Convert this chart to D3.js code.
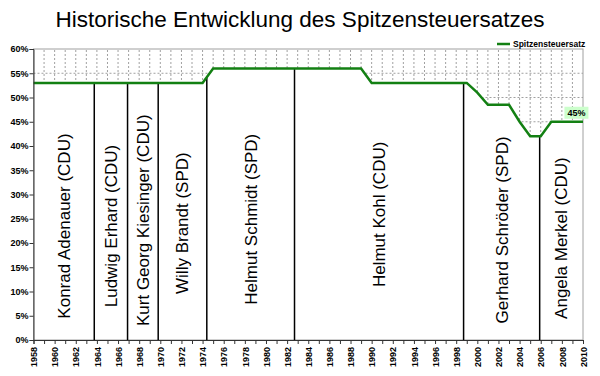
<!DOCTYPE html>
<html>
<head>
<meta charset="utf-8">
<script src="https://cdn.jsdelivr.net/npm/d3@7"></script>
<style>
  body { margin: 0; background: #fff; }
  svg { font-family: "Liberation Sans", Arial, sans-serif; }
</style>
</head>
<body>
<div id="chart"></div>
<script>
// top tax rate per year (percent)
var years = d3.range(1958, 2011);
var rates = [
  53, 53, 53, 53, 53, 53, 53, 53, 53, 53,   // 1958-1967
  53, 53, 53, 53, 53, 53, 53,               // 1968-1974
  56, 56, 56, 56, 56, 56, 56, 56, 56, 56,   // 1975-1984
  56, 56, 56, 56, 56,                       // 1985-1989
  53, 53, 53, 53, 53, 53, 53, 53, 53, 53,   // 1990-1999
  51, 48.5, 48.5, 48.5, 45, 42, 42,         // 2000-2006
  45, 45, 45, 45                            // 2007-2010
];

// chancellors and the (fractional) year their term ended
var chancellors = [
  "Konrad Adenauer (CDU)", "Ludwig Erhard (CDU)", "Kurt Georg Kiesinger (CDU)",
  "Willy Brandt (SPD)", "Helmut Schmidt (SPD)", "Helmut Kohl (CDU)",
  "Gerhard Schröder (SPD)", "Angela Merkel (CDU)"
];
var termEnds = [1963.75, 1966.9, 1969.8, 1974.4, 1982.7, 1998.7, 2005.9, 2010];

var yTicks = [0, 5, 10, 15, 20, 25, 30, 35, 40, 45, 50, 55, 60];

var title = "Historische Entwicklung des Spitzensteuersatzes";
var seriesName = "Spitzensteuersatz";
var endLabel = "45%";

// layout: vertical centre of each chancellor label, in percent units
var labelMid = [23.5, 23.5, 24.7, 24.1, 24.9, 25.9, 22.7, 21];

var W = 600, H = 376;
var x = d3.scaleLinear().domain([1958, 2010]).range([33.5, 583]);
var y = d3.scaleLinear().domain([0, 60]).range([340, 49]);

var svg = d3.select("#chart").append("svg")
  .attr("width", W)
  .attr("height", H);

var data = years.map(function(d, i) { return {year: d, v: rates[i]}; });
function rateAt(t) {
  var i = Math.floor(t - 1958);
  if (i >= rates.length - 1) return rates[rates.length - 1];
  var f = t - 1958 - i;
  return rates[i] + (rates[i + 1] - rates[i]) * f;
}

// title
svg.append("text")
  .attr("x", 300)
  .attr("y", 27)
  .attr("text-anchor", "middle")
  .style("font-size", "22.5px")
  .style("fill", "#000")
  .text(title);

// grid (dotted), then white area under the line hides it
var grid = svg.append("g");
grid.selectAll("line.v")
  .data(d3.range(1959, 2010))
  .enter().append("line")
    .attr("x1", function(d) { return x(d); })
    .attr("x2", function(d) { return x(d); })
    .attr("y1", y(0))
    .attr("y2", y(60))
    .style("stroke", "#a0a0a0")
    .style("stroke-dasharray", "2 2");
grid.selectAll("line.h")
  .data(yTicks.slice(1, -1))
  .enter().append("line")
    .attr("x1", x(1958))
    .attr("x2", x(2010))
    .attr("y1", function(d) { return y(d); })
    .attr("y2", function(d) { return y(d); })
    .style("stroke", "#a0a0a0")
    .style("stroke-dasharray", "2 2");

svg.append("path")
  .datum(data)
  .attr("d", d3.area()
    .x(function(d) { return x(d.year); })
    .y0(y(0))
    .y1(function(d) { return y(d.v); }))
  .style("fill", "#fff");

// plot frame
svg.append("rect")
  .attr("x", x(1958))
  .attr("y", y(60))
  .attr("width", x(2010) - x(1958))
  .attr("height", y(0) - y(60))
  .style("fill", "none")
  .style("stroke", "#a0a0a0");

// chancellor term boundaries
svg.append("g")
  .selectAll("line")
  .data(termEnds.slice(0, -1))
  .enter().append("line")
    .attr("x1", function(d) { return x(d); })
    .attr("x2", function(d) { return x(d); })
    .attr("y1", y(0))
    .attr("y2", function(d) { return y(rateAt(d)); })
    .style("stroke", "#000")
    .style("stroke-width", 1.5);

// chancellor labels
svg.append("g")
  .selectAll("text")
  .data(chancellors)
  .enter().append("text")
    .attr("transform", function(d, i) {
      var start = i === 0 ? 1958 : termEnds[i - 1];
      var cx = x((start + termEnds[i]) / 2);
      return "translate(" + cx + "," + y(labelMid[i]) + ") rotate(-90)";
    })
    .attr("text-anchor", "middle")
    .attr("dy", "0.35em")
    .style("font-size", "17px")
    .style("fill", "#000")
    .text(function(d) { return d; });

// rate line
svg.append("path")
  .datum(data)
  .attr("d", d3.line()
    .x(function(d) { return x(d.year); })
    .y(function(d) { return y(d.v); }))
  .style("fill", "none")
  .style("stroke", "#138013")
  .style("stroke-width", 2.5);

// axes
var yax = d3.axisLeft(y)
  .tickValues(yTicks)
  .tickSize(4)
  .tickFormat(function(d) { return d + "%"; });
var gy = svg.append("g")
  .attr("transform", "translate(" + x(1958) + ",0)")
  .call(yax);
gy.select(".domain").style("stroke", "#333");
gy.selectAll("line").style("stroke", "#333");
gy.selectAll("text")
  .style("font-size", "9px")
  .style("font-weight", "bold")
  .style("font-family", "Arial, 'Liberation Sans', sans-serif")
  .attr("x", -5);

var xax = d3.axisBottom(x)
  .tickValues(years)
  .tickSize(4)
  .tickFormat(function(d) { return d % 2 === 0 ? d : ""; });
var gx = svg.append("g")
  .attr("transform", "translate(0," + y(0) + ")")
  .call(xax);
gx.select(".domain").style("stroke", "#333");
gx.selectAll("line").style("stroke", "#333");
gx.selectAll("text")
  .attr("transform", "rotate(-90)")
  .attr("text-anchor", "end")
  .attr("x", -7)
  .attr("y", 0)
  .attr("dy", "0.35em")
  .style("font-size", "9px")
  .style("font-weight", "bold")
  .style("font-family", "Arial, 'Liberation Sans', sans-serif");

// end value tag
var tag = svg.append("g")
  .attr("transform", "translate(" + x(2009) + "," + (y(45) - 9) + ")");
tag.append("rect")
  .attr("x", -8)
  .attr("y", -6)
  .attr("width", 24)
  .attr("height", 12)
  .style("fill", "#ccffcc");
tag.append("text")
  .attr("x", 4)
  .attr("dy", "0.35em")
  .attr("text-anchor", "middle")
  .style("font-size", "9px")
  .style("font-weight", "bold")
  .text(endLabel);

// legend
var lg = svg.append("g").attr("transform", "translate(497,44)");
lg.append("line")
  .attr("x1", 0).attr("x2", 13)
  .style("stroke", "#138013")
  .style("stroke-width", 2.5);
lg.append("text")
  .attr("x", 16)
  .attr("dy", "0.35em")
  .style("font-size", "8.5px")
  .style("font-weight", "bold")
  .text(seriesName);
</script>
</body>
</html>
